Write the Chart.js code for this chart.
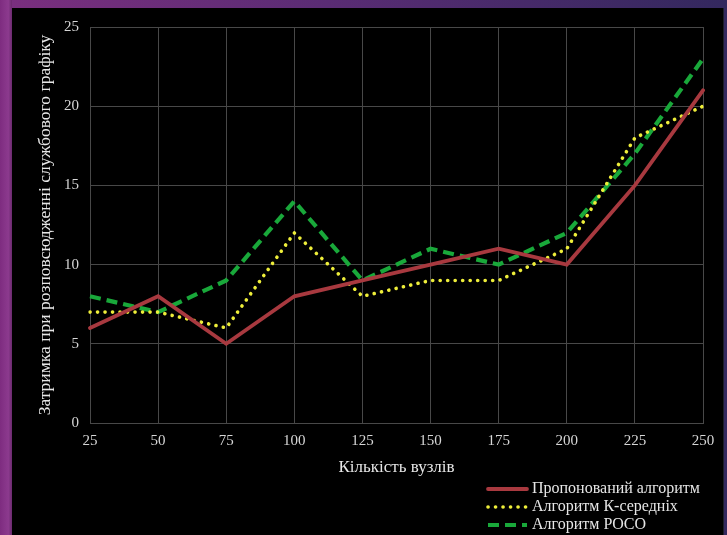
<!DOCTYPE html>
<html>
<head>
<meta charset="utf-8">
<script src="https://cdn.jsdelivr.net/npm/chart.js@4/dist/chart.umd.min.js"></script>
<style>
  html, body { margin: 0; padding: 0; }
  body {
    width: 727px; height: 535px; overflow: hidden; position: relative;
    background: linear-gradient(90deg, #7b2f7f 0%, #5a2c74 45%, #33285e 100%);
  }
  #side {
    position: absolute; left: 0; top: 0; width: 12px; height: 535px;
    background: linear-gradient(90deg, #7e2c80 0%, #8c3a8e 70%, #6a2a6e 100%);
  }
  #panel {
    position: absolute; left: 12px; top: 8px; width: 711px; height: 527px;
    background: #000; border-right: 1px solid #1d1d2a;
  }
  #wrap { position: absolute; left: 0; top: 0; width: 727px; height: 535px; }
</style>
</head>
<body>
<div id="side"></div>
<div id="panel"></div>
<div id="wrap"><canvas id="c" width="727" height="535"></canvas></div>
<script>
// Number of nodes
const nodeCounts = ['25', '50', '75', '100', '125', '150', '175', '200', '225', '250'];

// Propagation delay of service traffic for each algorithm
const proposedDelay = [6, 8, 5, 8, 9, 10, 11, 10, 15, 21];
const kMeansDelay   = [7, 7, 6, 12, 8, 9, 9, 11, 18, 20];
const pocoDelay     = [8, 7, 9, 14, 9, 11, 10, 12, 17, 23];

const seriesNames = ['Пропонований алгоритм', 'Алгоритм К-середніх', 'Алгоритм POCO'];
const yTicks = [0, 5, 10, 15, 20, 25];

const serif = '"Liberation Serif", "DejaVu Serif", serif';

// Legend drawn as a stacked column in the lower right corner
const columnLegend = {
  id: 'columnLegend',
  afterDraw(chart) {
    const ctx = chart.ctx;
    const x0 = 488, x1 = 527, tx = 532;
    const rows = [489, 507, 525];
    chart.data.datasets.forEach((ds, i) => {
      const y = rows[i];
      ctx.save();
      ctx.strokeStyle = ds.borderColor;
      ctx.lineWidth = ds.borderWidth;
      ctx.lineCap = ds.borderCapStyle || 'butt';
      ctx.setLineDash(ds.borderDash || []);
      ctx.beginPath();
      ctx.moveTo(x0, y);
      ctx.lineTo(x1, y);
      ctx.stroke();
      ctx.restore();
      ctx.save();
      ctx.fillStyle = '#e6e6e6';
      ctx.font = '16px ' + serif;
      ctx.textBaseline = 'middle';
      ctx.fillText(ds.label, tx, y);
      ctx.restore();
    });
  }
};

new Chart(document.getElementById('c'), {
  type: 'line',
  data: {
    labels: nodeCounts,
    datasets: [
      {
        label: seriesNames[0],
        data: proposedDelay,
        borderColor: '#a8393f',
        borderWidth: 3.8,
        borderCapStyle: 'round',
        borderJoinStyle: 'miter',
        pointRadius: 0,
        tension: 0
      },
      {
        label: seriesNames[1],
        data: kMeansDelay,
        borderColor: '#eeee3a',
        borderWidth: 3.6,
        borderDash: [0.1, 7.4],
        borderCapStyle: 'round',
        pointRadius: 0,
        tension: 0
      },
      {
        label: seriesNames[2],
        data: pocoDelay,
        borderColor: '#19a83a',
        borderWidth: 4.2,
        borderDash: [11, 6],
        borderCapStyle: 'butt',
        pointRadius: 0,
        tension: 0
      }
    ]
  },
  options: {
    responsive: false,
    animation: false,
    events: [],
    layout: { padding: { left: 12, right: 24, top: 27, bottom: 0 } },
    plugins: {
      legend: { display: false },
      tooltip: { enabled: false }
    },
    scales: {
      x: {
        grid: { color: '#484848', lineWidth: 1, drawTicks: false },
        border: { color: '#484848' },
        ticks: {
          color: '#d6d6d6',
          font: { family: serif, size: 15 },
          padding: 9,
          maxRotation: 0,
          autoSkip: false
        },
        title: {
          display: true,
          text: 'Кількість вузлів',
          color: '#e6e6e6',
          font: { family: serif, size: 17 },
          padding: { top: 0, bottom: 57 }
        },
        afterFit(scale) { scale.height = 112; }
      },
      y: {
        min: 0,
        max: 25,
        afterBuildTicks(scale) { scale.ticks = yTicks.map(v => ({ value: v })); },
        grid: { color: '#484848', lineWidth: 1, drawTicks: false },
        border: { color: '#484848' },
        ticks: {
          color: '#d6d6d6',
          font: { family: serif, size: 15 },
          padding: 11
        },
        title: {
          display: true,
          text: 'Затримка при розповсюдженні службового графіку',
          color: '#e6e6e6',
          font: { family: serif, size: 17.5 },
          padding: { top: 23, bottom: 0 }
        },
        afterFit(scale) { scale.width = 78; }
      }
    }
  },
  plugins: [columnLegend]
});
</script>
</body>
</html>
